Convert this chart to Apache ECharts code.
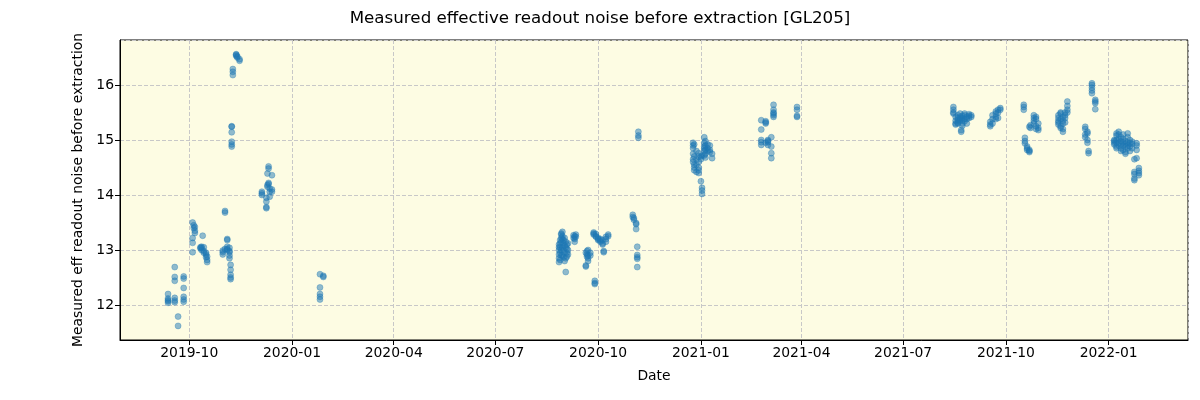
<!DOCTYPE html>
<html>
<head>
<meta charset="utf-8">
<script src="https://cdn.jsdelivr.net/npm/echarts@6/dist/echarts.min.js"></script>
<style>html,body{margin:0;padding:0;background:#fff}#c{width:1200px;height:400px}</style>
</head>
<body>
<div id="c"></div>
<script>
// Observation dates (one entry per observing night) and measured noise values on that night
const obsDates = [
  '2019-09-12','2019-09-18','2019-09-21','2019-09-26',
  '2019-10-04','2019-10-05','2019-10-06','2019-10-11','2019-10-12','2019-10-13','2019-10-14','2019-10-16','2019-10-17',
  '2019-10-31','2019-11-02','2019-11-04','2019-11-06','2019-11-07','2019-11-08','2019-11-09','2019-11-12','2019-11-13','2019-11-15',
  '2019-12-05','2019-12-09','2019-12-10','2019-12-11','2019-12-12','2019-12-14',
  '2020-01-26','2020-01-29',
  '2020-08-27','2020-08-28','2020-08-29','2020-08-30','2020-08-31','2020-09-01','2020-09-02','2020-09-03','2020-09-04',
  '2020-09-09','2020-09-10','2020-09-11','2020-09-20','2020-09-21','2020-09-22','2020-09-24','2020-09-27','2020-09-28',
  '2020-09-29','2020-10-01','2020-10-03','2020-10-05','2020-10-06','2020-10-08','2020-10-10',
  '2020-11-01','2020-11-02','2020-11-04','2020-11-05','2020-11-06',
  '2020-12-25','2020-12-26','2020-12-28','2020-12-30','2021-01-01','2021-01-02','2021-01-04','2021-01-05','2021-01-07','2021-01-09','2021-01-11',
  '2021-02-24','2021-02-28','2021-03-02','2021-03-05','2021-03-07','2021-03-28',
  '2021-08-15','2021-08-17','2021-08-19','2021-08-21','2021-08-22','2021-08-23','2021-08-25','2021-08-27','2021-08-29','2021-08-31',
  '2021-09-17','2021-09-19','2021-09-22','2021-09-24','2021-09-26',
  '2021-10-17','2021-10-18','2021-10-20','2021-10-22','2021-10-23','2021-10-26','2021-10-28','2021-10-30',
  '2021-11-17','2021-11-19','2021-11-21','2021-11-23','2021-11-25',
  '2021-12-11','2021-12-13','2021-12-14','2021-12-17','2021-12-20',
  '2022-01-06','2022-01-08','2022-01-10','2022-01-12','2022-01-14','2022-01-16','2022-01-18','2022-01-20','2022-01-22','2022-01-24','2022-01-26','2022-01-28'
];
const noiseValues = [
  [12.04,12.07,12.09,12.12,12.2],[12.69,12.51,12.44,12.13,12.08,12.05],[11.79,11.62],[12.52,12.48,12.31,12.15,12.1,12.06],
  [13.5,13.22,13.13,12.96],[13.45,13.4],[13.42,13.35,13.31],[13.03,13.05],[13.0,13.04,13.06],[13.26],[13.05,12.95,12.98],[12.92,12.87,12.95],[12.82,12.78,12.88],
  [12.99,12.96,12.92],[13.71,13.68,13.02],[13.2,13.18,13.06,13.02,13.0],[13.04,12.98,12.96,12.9,12.85],[12.73,12.64,12.55,12.5,12.47],
  [15.25,15.24,15.14,14.97,14.92,14.88],[16.29,16.24,16.18],[16.56,16.55,16.53],[16.52,16.5],[16.47,16.44],
  [14.06,14.03,14.0],[13.95,13.88,13.78,13.76],[14.18,14.39,14.15],[14.52,14.48,14.2,14.22],[13.97,14.06,14.12],[14.36,14.1,14.06],
  [12.56,12.32,12.2,12.15,12.1],[12.53,12.51],
  [12.78,12.85,12.92,13.0,13.05,13.1],[12.82,12.95,13.12,13.18,13.05],[13.0,13.15,13.22,13.28,13.3,12.9],[13.2,13.25,13.33,13.05,12.9],
  [13.12,13.18,13.0,12.87],[13.22,13.08,12.8,12.95],[13.15,12.85,13.05,12.6],[13.1,12.95,12.88,13.02],[13.0,13.12,12.92],
  [13.27,13.22],[13.2,13.25,13.15],[13.28,13.24],[12.72,12.7,12.95],[12.88,12.92,12.98],[12.85,13.0,12.8,12.9],[12.9,12.95],
  [13.3,13.32,13.28],[12.44,12.38,12.4],
  [13.29,13.25,13.24],[13.22,13.18,13.2],[13.15,13.2,13.17],[13.12,13.18,13.1],[12.98,12.96],[13.2,13.24,13.15],[13.28,13.25],
  [13.64,13.6],[13.55,13.58],[13.49,13.47,13.38],[13.06,12.91,12.87,12.84,12.69],[15.15,15.08,15.04],
  [14.95,14.9,14.85,14.75,14.65,14.6],[14.92,14.7,14.55,14.5,14.45],[14.8,14.65,14.55,14.42],[14.76,14.7,14.6,14.5,14.45,14.4],
  [14.25,14.65,14.7],[14.13,14.08,14.02,14.72],[15.05,14.95,14.88,14.8,14.72,14.85],[14.98,14.9,14.82,14.75,14.68],
  [14.92,14.85,14.8],[14.9,14.82,14.78],[14.67,14.75],
  [15.36,15.19,15.0,14.96,14.91],[15.32,15.34,15.3,14.95],[15.0,14.96,14.91,14.98],[15.05,14.88,14.76,14.67],
  [15.64,15.55,15.5,15.45,15.42,15.48],[15.6,15.55,15.42,15.44],
  [15.6,15.55,15.5,15.48],[15.35,15.42,15.3,15.28],[15.45,15.4,15.36,15.32,15.3],[15.48,15.42,15.38,15.35],[15.15,15.18],
  [15.44,15.4,15.36,15.3,15.26],[15.48,15.45,15.38,15.34],[15.42,15.38,15.3],[15.47,15.44,15.4],[15.45,15.42],
  [15.33,15.28,15.25],[15.45,15.38,15.3],[15.52,15.48,15.42,15.38],[15.55,15.5,15.4],[15.58,15.55],
  [15.64,15.6,15.55],[15.04,14.98,14.94],[14.88,14.85,14.82],[14.82,14.78,14.8,15.24],[15.27,15.22],
  [15.45,15.4,15.35,15.3],[15.42,15.38,15.25,15.2],[15.3,15.22,15.18],
  [15.35,15.32,15.28,15.4,15.45],[15.5,15.48,15.38,15.25,15.22],[15.42,15.35,15.3,15.15,15.2],[15.5,15.45,15.4,15.32],[15.7,15.62,15.55,15.5],
  [15.24,15.2,15.1,15.05],[15.15,15.12,15.0,14.95],[14.8,14.76],[16.03,16.0,15.95,15.9,15.85],[15.73,15.7,15.67,15.56],
  [14.98,14.95,15.0,14.92],[15.12,15.08,15.0,14.95,14.88,14.85],[15.15,15.1,15.02,14.95,14.9],[15.05,14.98,14.92,14.85,14.8],
  [15.1,15.02,14.96,14.9,14.82],[14.98,14.93,14.88,14.78,14.75],[15.12,15.05,14.95,14.9,14.85],[15.0,14.94,14.88,14.8],
  [14.97,14.93,14.85],[14.65,14.42,14.38,14.3,14.27],[14.94,14.9,14.82,14.67],[14.49,14.44,14.4,14.36]
];
const xRange = ['2019-07-31', '2022-03-13'];
const yRange = [11.364, 16.818];

const points = [];
obsDates.forEach((d, i) => noiseValues[i].forEach(v => points.push([d, v])));

const font = 'DejaVu Sans';
const chart = echarts.init(document.getElementById('c'), null, {renderer: 'canvas'});
chart.setOption({
  animation: false,
  backgroundColor: '#ffffff',
  title: {
    text: 'Measured effective readout noise before extraction [GL205]',
    left: 'center', top: 5,
    textStyle: {fontFamily: font, fontSize: 16.7, fontWeight: 'normal', color: '#000'}
  },
  grid: {
    left: 120, right: 12, top: 40, bottom: 60,
    show: true, backgroundColor: '#fdfce3', borderColor: '#000', borderWidth: 1
  },
  xAxis: {
    type: 'time',
    min: xRange[0], max: xRange[1],
    splitNumber: 10,
    name: 'Date', nameLocation: 'middle', nameGap: 29,
    nameTextStyle: {fontFamily: font, fontSize: 13.9, color: '#000'},
    axisLine: {show: true, lineStyle: {color: '#000', width: 1}},
    axisTick: {show: true, length: 5, lineStyle: {color: '#000'}},
    axisLabel: {
      fontFamily: font, fontSize: 13.9, color: '#000', margin: 6,
      formatter: v => echarts.time.format(v, '{yyyy}-{MM}', false)
    },
    splitLine: {show: true, lineStyle: {color: '#c8c8c8', type: [4, 2], width: 1}},
    minorTick: {show: false}
  },
  yAxis: {
    type: 'value',
    min: yRange[0], max: yRange[1],
    splitNumber: 5,
    name: 'Measured eff readout noise before extraction', nameLocation: 'middle', nameGap: 33,
    nameRotate: 90,
    nameTextStyle: {fontFamily: font, fontSize: 13.9, color: '#000'},
    axisLine: {show: true, lineStyle: {color: '#000', width: 1}},
    axisTick: {show: true, length: 5, lineStyle: {color: '#000'}},
    axisLabel: {fontFamily: font, fontSize: 13.9, color: '#000', margin: 6, showMinLabel: false, showMaxLabel: false},
    splitLine: {show: true, lineStyle: {color: '#c8c8c8', type: [4, 2], width: 1}}
  },
  series: [{
    type: 'scatter',
    data: points,
    symbolSize: 6,
    itemStyle: {color: 'rgba(31,119,180,0.62)', borderColor: 'rgba(31,119,180,0.7)', borderWidth: 0.6}
  }]
});
</script>
</body>
</html>
